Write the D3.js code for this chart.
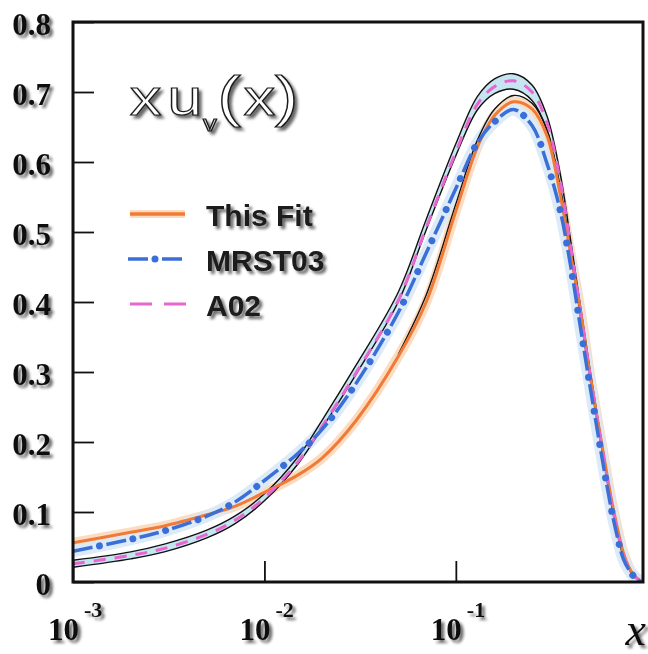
<!DOCTYPE html>
<html>
<head>
<meta charset="utf-8">
<script src="https://cdn.jsdelivr.net/npm/d3@7"></script>
<style>
  html, body { margin: 0; padding: 0; background: #ffffff; }
  svg { display: block; }
</style>
</head>
<body>
<svg id="chart" width="648" height="654"></svg>
<script>
// x grid shared by every curve
const xValues = [0.001, 0.002, 0.003, 0.005, 0.007, 0.01, 0.015, 0.02, 0.03, 0.05,
                 0.07, 0.1, 0.13, 0.16, 0.2, 0.25, 0.3, 0.35, 0.4, 0.45,
                 0.5, 0.55, 0.6, 0.65, 0.7, 0.75, 0.8, 0.85, 0.9, 0.93];

// x u_v(x) : this fit (central curve)
const thisFit = [0.056, 0.071, 0.080, 0.096, 0.108, 0.128, 0.153, 0.177, 0.230, 0.322,
                 0.400, 0.530, 0.622, 0.667, 0.686, 0.676, 0.637, 0.555, 0.465, 0.385,
                 0.300, 0.232, 0.172, 0.118, 0.076, 0.042, 0.022, 0.010, 0.004, 0.001];

// thin black companion line of this fit around the peak
const fitEdge = [null, null, null, null, null, null, null, null, null, 0.325,
                 0.410, 0.540, 0.632, 0.676, 0.695, 0.684, 0.645, 0.562, 0.470, 0.388,
                 0.302, null, null, null, null, null, null, null, null, null];

// MRST03
const mrst03 = [0.044, 0.061, 0.073, 0.094, 0.114, 0.145, 0.184, 0.218, 0.283, 0.385,
                0.470, 0.562, 0.628, 0.658, 0.675, 0.652, 0.597, 0.532, 0.448, 0.360,
                0.283, 0.215, 0.155, 0.103, 0.063, 0.033, 0.018, 0.008, 0.002, 0.000];

// A02 central value and its uncertainty band
const a02 = [0.026, 0.038, 0.048, 0.068, 0.088, 0.120, 0.172, 0.222, 0.298, 0.402,
             0.506, 0.614, 0.683, 0.708, 0.716, 0.700, 0.655, 0.575, 0.475, 0.382,
             0.300, 0.230, 0.168, 0.113, 0.071, 0.038, 0.020, 0.009, 0.003, 0.000];
const a02Upper = [0.031, 0.043, 0.054, 0.074, 0.094, 0.126, 0.179, 0.231, 0.309, 0.414,
                  0.518, 0.626, 0.694, 0.719, 0.726, 0.710, 0.665, 0.585, 0.484, 0.390,
                  0.307, 0.236, 0.173, 0.117, 0.074, 0.040, 0.021, 0.010, 0.003, 0.000];
const a02Lower = [0.021, 0.033, 0.043, 0.063, 0.083, 0.116, 0.169, 0.220, 0.296, 0.400,
                  0.503, 0.609, 0.675, 0.698, 0.704, 0.688, 0.645, 0.566, 0.467, 0.375,
                  0.294, 0.225, 0.164, 0.110, 0.068, 0.036, 0.019, 0.008, 0.003, 0.000];

const yTickValues = [0, 0.1, 0.2, 0.3, 0.4, 0.5, 0.6, 0.7, 0.8];
const yTickLabels = ["0", "0.1", "0.2", "0.3", "0.4", "0.5", "0.6", "0.7", "0.8"];
const xDecades = [0.001, 0.01, 0.1];
const xDecadeExponents = ["-3", "-2", "-1"];
const legendLabels = ["This Fit", "MRST03", "A02"];

const COL_FIT = "#f07a36", COL_FIT_HALO = "#fcdcc0";
const COL_MRST = "#3a6fd8", COL_MRST_HALO = "#d9e9f8";
const COL_A02 = "#e866cf", COL_A02_BAND = "#bfe2f0";

const svg = d3.select("#chart");
const plot = { left: 73, right: 643, top: 22, bottom: 582 };

const x = d3.scaleLog().domain([1e-3, 0.95]).range([plot.left, plot.right]);
const y = d3.scaleLinear().domain([0, 0.8]).range([plot.bottom, plot.top]);

// soft grey drop shadow used by the printed text
const defs = svg.append("defs");
const sh = defs.append("filter").attr("id", "shadow")
  .attr("x", "-20%").attr("y", "-30%").attr("width", "150%").attr("height", "170%");
sh.append("feGaussianBlur").attr("in", "SourceAlpha").attr("stdDeviation", 1.7);
sh.append("feOffset").attr("dx", 2.5).attr("dy", 2.5);
sh.append("feComponentTransfer").append("feFuncA").attr("type", "linear").attr("slope", 0.6);
const shm = sh.append("feMerge");
shm.append("feMergeNode");
shm.append("feMergeNode").attr("in", "SourceGraphic");

const clip = defs.append("clipPath").attr("id", "plotClip");
clip.append("rect").attr("x", plot.left).attr("y", plot.top)
  .attr("width", plot.right - plot.left).attr("height", plot.bottom - plot.top);

svg.append("rect").attr("width", 648).attr("height", 654).attr("fill", "#fff");

const pts = arr => xValues.map((xv, i) => [xv, arr[i]]);
const line = d3.line()
  .defined(d => d[1] !== null)
  .x(d => x(d[0])).y(d => y(d[1]))
  .curve(d3.curveCatmullRom.alpha(0.5));
const band = d3.area()
  .x(d => x(d[0])).y0(d => y(d[1])).y1(d => y(d[2]))
  .curve(d3.curveCatmullRom.alpha(0.5));

const curves = svg.append("g").attr("clip-path", "url(#plotClip)");

// halos
curves.append("path").attr("d", line(pts(thisFit)))
  .attr("fill", "none").attr("stroke", COL_FIT_HALO).attr("stroke-width", 10);
curves.append("path").attr("d", line(pts(mrst03)))
  .attr("fill", "none").attr("stroke", COL_MRST_HALO).attr("stroke-width", 12).attr("opacity", 0.9);

// A02 band
curves.append("path")
  .attr("d", band(xValues.map((xv, i) => [xv, a02Lower[i], a02Upper[i]])))
  .attr("fill", COL_A02_BAND).attr("opacity", 0.9);
[a02Upper, a02Lower, fitEdge].forEach(arr => {
  curves.append("path").attr("d", line(pts(arr)))
    .attr("fill", "none").attr("stroke", "#111").attr("stroke-width", 1.4);
});

// this fit
curves.append("path").attr("d", line(pts(thisFit)))
  .attr("fill", "none").attr("stroke", COL_FIT).attr("stroke-width", 3);

// A02 dashed
curves.append("path").attr("d", line(pts(a02)))
  .attr("fill", "none").attr("stroke", COL_A02).attr("stroke-width", 3)
  .attr("stroke-dasharray", "12 9");

// MRST03 dash-dot: dashes and round dots drawn as two passes of one path
function dashDot(g, d, w) {
  g.append("path").attr("d", d).attr("fill", "none").attr("stroke", COL_MRST)
    .attr("stroke-width", w).attr("stroke-dasharray", "20 14");
  g.append("path").attr("d", d).attr("fill", "none").attr("stroke", COL_MRST)
    .attr("stroke-width", w + 3.5).attr("stroke-linecap", "round")
    .attr("stroke-dasharray", "0.01 33.99").attr("stroke-dashoffset", 7);
}
dashDot(curves, line(pts(mrst03)), 3.5);

// axes: ticks point into the frame
const yAxisG = svg.append("g").attr("transform", `translate(${plot.left},0)`);
yAxisG.call(d3.axisLeft(y).tickValues(y.ticks(40)).tickSize(-10).tickFormat(""))
  .call(g => g.select(".domain").remove());
yAxisG.call(d3.axisLeft(y).tickValues(yTickValues).tickSize(-21).tickFormat(""))
  .call(g => g.select(".domain").remove());
yAxisG.selectAll("line").attr("stroke", "#111").attr("stroke-width", 1.8);

const xAxisG = svg.append("g").attr("transform", `translate(0,${plot.bottom})`);
const minorX = x.ticks().filter(t => xDecades.indexOf(t) < 0 && t < 0.95);
xAxisG.call(d3.axisBottom(x).tickValues(minorX).tickSize(-11).tickFormat(""))
  .call(g => g.select(".domain").remove());
xAxisG.call(d3.axisBottom(x).tickValues(xDecades).tickSize(-21).tickFormat(""))
  .call(g => g.select(".domain").remove());
xAxisG.selectAll("line").attr("stroke", "#111").attr("stroke-width", 1.8);

// frame
svg.append("rect")
  .attr("x", plot.left).attr("y", plot.top)
  .attr("width", plot.right - plot.left).attr("height", plot.bottom - plot.top)
  .attr("fill", "none").attr("stroke", "#111").attr("stroke-width", 3);

// y tick labels
const txt = svg.append("g").attr("filter", "url(#shadow)");
txt.selectAll("text.ylab").data(yTickValues).join("text")
  .attr("class", "ylab")
  .attr("x", 51).attr("y", d => y(d) + 2)
  .attr("text-anchor", "end").attr("dominant-baseline", "central")
  .attr("font-family", "'Liberation Serif', 'Times New Roman', serif")
  .attr("font-weight", "bold").attr("font-size", 31).attr("fill", "#111")
  .text((d, i) => yTickLabels[i]);

// x decade labels 10^n
xDecades.forEach((dv, i) => {
  const t = txt.append("text")
    .attr("class", "xlab")
    .attr("y", 640)
    .attr("font-family", "'Liberation Serif', 'Times New Roman', serif")
    .attr("font-weight", "bold").attr("fill", "#111");
  const base = t.append("tspan").attr("font-size", 31).text("10");
  const w = base.node().getComputedTextLength();
  base.attr("x", x(dv) + 6 - w);
  t.append("tspan").attr("font-size", 22).attr("dx", 5).attr("dy", -23)
    .text(xDecadeExponents[i]);
});

// axis title
txt.append("text").attr("x", 646).attr("y", 645).attr("text-anchor", "end")
  .attr("font-family", "'Liberation Serif', 'Times New Roman', serif")
  .attr("font-style", "italic").attr("font-size", 46).attr("fill", "#111")
  .text("x");

// panel title x u_v(x), hollow letters
const title = txt.append("text")
  .attr("transform", "translate(130,115) scale(1.25,1)")
  .attr("font-family", "'Liberation Sans', Arial, sans-serif")
  .attr("font-size", 50).attr("fill", "#fff").attr("stroke", "#1a1a1a")
  .attr("stroke-width", 1.2);
title.append("tspan").attr("x", 0).text("x");
title.append("tspan").attr("x", 30).text("u");
title.append("tspan").attr("x", 58.5).attr("dy", 16).attr("font-size", 22).text("v");
title.append("tspan").attr("x", 70).attr("dy", -16).attr("font-size", 56).text("(");
title.append("tspan").attr("x", 91).text("x");
title.append("tspan").attr("x", 116).attr("font-size", 56).text(")");

// legend
const legY = [214, 259, 304];
const lg = svg.append("g");
lg.append("line").attr("x1", 130).attr("x2", 185).attr("y1", legY[0]).attr("y2", legY[0])
  .attr("stroke", COL_FIT_HALO).attr("stroke-width", 8);
lg.append("line").attr("x1", 130).attr("x2", 185).attr("y1", legY[0]).attr("y2", legY[0])
  .attr("stroke", COL_FIT).attr("stroke-width", 3.5);
dashDot(lg, `M128,${legY[1]}H185`, 3.5);
lg.append("line").attr("x1", 130).attr("x2", 186).attr("y1", legY[2]).attr("y2", legY[2])
  .attr("stroke", COL_A02).attr("stroke-width", 3).attr("stroke-dasharray", "22 12");
txt.selectAll("text.leg").data(legendLabels).join("text")
  .attr("class", "leg")
  .attr("x", 206).attr("y", (d, i) => legY[i] + 1)
  .attr("dominant-baseline", "central")
  .attr("font-family", "'Liberation Sans', Arial, sans-serif")
  .attr("font-weight", "bold").attr("font-size", 30).attr("fill", "#1a1a1a")
  .text(d => d);
</script>
</body>
</html>
